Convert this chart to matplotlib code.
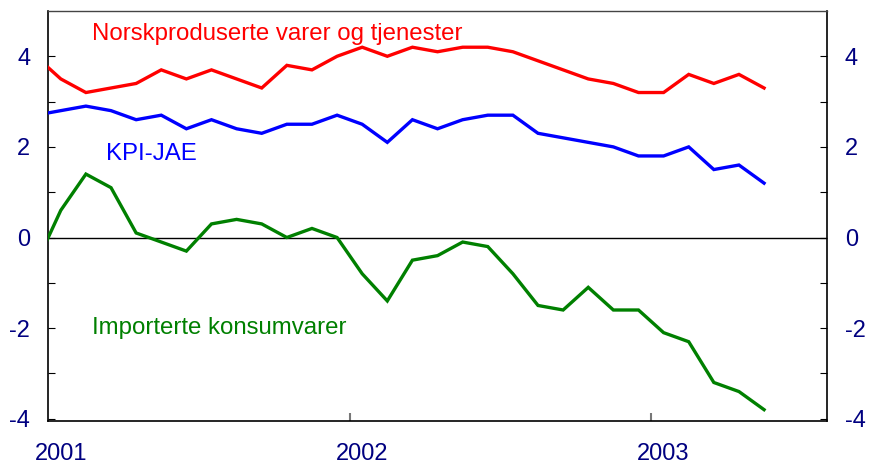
"""KPI-JAE og delindekser, 2001-2003."""

import matplotlib
matplotlib.use("Agg")
import matplotlib.pyplot as plt
from matplotlib.ticker import FixedLocator, NullFormatter

plt.rcParams["font.family"] = ["Liberation Sans", "DejaVu Sans"]
plt.rcParams["axes.unicode_minus"] = False

# months since Jan 2001, points at mid-month, from Dec 2000 to May 2003
months = list(range(-1, 29))
norsk = [4.0, 3.5, 3.2, 3.3, 3.4, 3.7, 3.5, 3.7, 3.5, 3.3, 3.8, 3.7, 4.0, 4.2, 4.0,
         4.2, 4.1, 4.2, 4.2, 4.1, 3.9, 3.7, 3.5, 3.4, 3.2, 3.2, 3.6, 3.4, 3.6, 3.3]
kpi_jae = [2.7, 2.8, 2.9, 2.8, 2.6, 2.7, 2.4, 2.6, 2.4, 2.3, 2.5, 2.5, 2.7, 2.5, 2.1,
           2.6, 2.4, 2.6, 2.7, 2.7, 2.3, 2.2, 2.1, 2.0, 1.8, 1.8, 2.0, 1.5, 1.6, 1.2]
importert = [-0.6, 0.6, 1.4, 1.1, 0.1, -0.1, -0.3, 0.3, 0.4, 0.3, 0.0, 0.2, 0.0, -0.8,
             -1.4, -0.5, -0.4, -0.1, -0.2, -0.8, -1.5, -1.6, -1.1, -1.6, -1.6, -2.1,
             -2.3, -3.2, -3.4, -3.8]
years = ["2001", "2002", "2003"]

NAVY = "#000080"
x = [m + 0.5 for m in months]

fig = plt.figure(figsize=(8.69, 4.67), dpi=100)
ax = fig.add_axes([0.0555, 0.0985, 0.896, 0.878])

ax.axhline(0, color="black", lw=1.0, zorder=1)
ax.plot(x, norsk, color="#ff0000", lw=2.4, solid_joinstyle="miter", zorder=3)
ax.plot(x, kpi_jae, color="#0000ff", lw=2.4, solid_joinstyle="miter", zorder=3)
ax.plot(x, importert, color="#008000", lw=2.4, solid_joinstyle="miter", zorder=3)

ax.set_xlim(0, 31)
ax.set_ylim(-4.05, 5)

# y axis: ticks every 1, labels on even values, both sides
ax.yaxis.set_major_locator(FixedLocator([-4, -2, 0, 2, 4]))
ax.yaxis.set_minor_locator(FixedLocator([-3, -1, 1, 3]))
ax.yaxis.set_minor_formatter(NullFormatter())
ax.tick_params(axis="y", which="both", direction="in", length=5, width=0.8,
               left=True, right=True, labelleft=True, labelright=True,
               labelsize=17, labelcolor=NAVY, pad=13)

# x axis: year ticks at year starts, labels half a month later
ax.xaxis.set_major_locator(FixedLocator([12, 24]))
ax.xaxis.set_major_formatter(NullFormatter())
ax.xaxis.set_minor_locator(FixedLocator([0.5, 12.5, 24.5]))
ax.set_xticklabels(years, minor=True)
ax.tick_params(axis="x", which="major", direction="in", length=6, width=1.5,
               color="#777777")
ax.tick_params(axis="x", which="minor", length=0, labelsize=17,
               labelcolor=NAVY, pad=16)

for side in ["left", "bottom", "right"]:
    ax.spines[side].set_color("black")
    ax.spines[side].set_linewidth(1.2)
ax.spines["top"].set_color("#444444")
ax.spines["top"].set_linewidth(1.0)

ax.text(1.75, 4.5, "Norskproduserte varer og tjenester", color="#ff0000",
        fontsize=17.3, va="center", ha="left")
ax.text(2.3, 1.85, "KPI-JAE", color="#0000ff", fontsize=17.3, va="center", ha="left")
ax.text(1.75, -2.0, "Importerte konsumvarer", color="#008000", fontsize=17.3,
        va="center", ha="left")

fig.savefig("out.png", dpi=100)
